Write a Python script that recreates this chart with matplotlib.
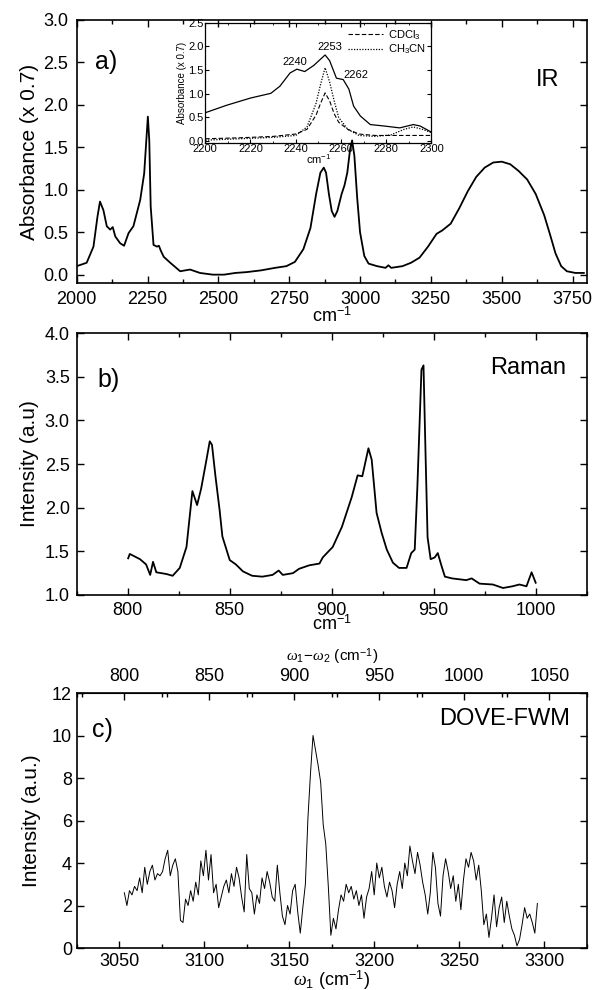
from matplotlib import pyplot as plt
from matplotlib.ticker import MultipleLocator
import numpy as np

plt.rcParams['font.family'] = ['Liberation Sans', 'DejaVu Sans']
plt.rcParams['mathtext.fontset'] = 'custom'
plt.rcParams['mathtext.rm'] = 'Liberation Sans'
plt.rcParams['mathtext.it'] = 'Liberation Serif:italic'

# a) IR spectrum
ir_x = [2000, 2035, 2059, 2073, 2082, 2094, 2106, 2118, 2127, 2136, 2153, 2167,
        2183, 2200, 2224, 2238, 2244, 2251, 2256, 2261, 2271, 2283, 2290, 2297,
        2307, 2330, 2365, 2400, 2435, 2480, 2520, 2560, 2600, 2650, 2700, 2740,
        2770, 2800, 2825, 2845, 2860, 2872, 2880, 2890, 2900, 2910, 2920, 2935,
        2945, 2955, 2965, 2972, 2980, 2990, 3000, 3015, 3030, 3060, 3090, 3100,
        3110, 3150, 3180, 3210, 3240, 3270, 3290, 3320, 3350, 3380, 3410, 3440,
        3470, 3500, 3530, 3560, 3590, 3620, 3650, 3670, 3690, 3710, 3730, 3760, 3790]
ir_y = [0.10, 0.14, 0.33, 0.68, 0.86, 0.76, 0.57, 0.53, 0.56, 0.45, 0.37, 0.34,
        0.49, 0.57, 0.88, 1.19, 1.50, 1.86, 1.58, 0.80, 0.35, 0.33, 0.34, 0.28,
        0.21, 0.14, 0.04, 0.06, 0.02, 0.00, 0.00, 0.02, 0.03, 0.05, 0.08, 0.10,
        0.15, 0.30, 0.55, 0.95, 1.20, 1.26, 1.20, 0.95, 0.75, 0.68, 0.75, 0.95,
        1.05, 1.20, 1.48, 1.58, 1.40, 0.90, 0.50, 0.22, 0.13, 0.10, 0.08, 0.11,
        0.08, 0.10, 0.14, 0.20, 0.33, 0.48, 0.52, 0.60, 0.78, 0.98, 1.15, 1.26,
        1.32, 1.33, 1.30, 1.22, 1.12, 0.95, 0.70, 0.48, 0.25, 0.10, 0.04, 0.02, 0.02]

# inset: CN stretch region
sol_x = [2200, 2209.6, 2220, 2229, 2233, 2237.5, 2240.5, 2244, 2248, 2253, 2255,
         2258, 2261, 2263.5, 2265.6, 2268.6, 2273, 2279, 2286, 2292, 2295, 2300]
sol_y = [0.60, 0.76, 0.91, 1.01, 1.16, 1.44, 1.52, 1.47, 1.60, 1.82, 1.70,
         1.33, 1.30, 1.10, 0.74, 0.53, 0.35, 0.32, 0.28, 0.35, 0.32, 0.19]
cdcl3_x = [2200, 2215, 2230, 2240, 2245, 2249, 2251, 2253, 2255, 2257, 2259,
           2263, 2268, 2275, 2285, 2300]
cdcl3_y = [0.05, 0.07, 0.10, 0.15, 0.25, 0.55, 0.80, 1.02, 0.85, 0.58, 0.40,
           0.25, 0.15, 0.12, 0.12, 0.12]
ch3cn_x = [2200, 2215, 2230, 2240, 2245, 2249, 2251, 2253, 2255, 2257, 2259,
           2263, 2268, 2275, 2282, 2288, 2292, 2296, 2300]
ch3cn_y = [0.02, 0.05, 0.08, 0.12, 0.30, 0.80, 1.20, 1.55, 1.25, 0.85, 0.50,
           0.25, 0.12, 0.10, 0.13, 0.25, 0.30, 0.25, 0.18]
peak_labels = [('2240', 2239.5, 1.67), ('2253', 2255, 1.98), ('2262', 2266.5, 1.40)]

# b) Raman spectrum
raman_x = [800.2, 801, 806, 809, 811, 812.4, 814, 819, 822, 825.5, 828.8, 830.7,
           831.7, 834, 836, 838.6, 840.2, 841.3, 843, 845, 846.4, 848.4, 850, 853,
           856.5, 861, 866, 871, 874, 876, 881, 884, 889, 894, 895.6, 900.5, 905,
           909.8, 912.7, 915, 918, 919.6, 922, 924.5, 927, 930, 933, 936.7, 939,
           940.7, 942, 944, 945, 946, 947, 948.5, 950.5, 952, 954, 955.5, 959, 966,
           968.6, 972.5, 979, 984, 988.7, 992, 995.5, 998, 1000]
raman_y = [1.42, 1.47, 1.41, 1.35, 1.23, 1.38, 1.26, 1.24, 1.22, 1.31, 1.55, 1.97,
           2.19, 2.03, 2.22, 2.55, 2.76, 2.72, 2.36, 1.98, 1.67, 1.52, 1.40, 1.35,
           1.27, 1.22, 1.21, 1.23, 1.28, 1.23, 1.25, 1.30, 1.34, 1.36, 1.43, 1.55, 1.78,
           2.12, 2.37, 2.36, 2.68, 2.55, 1.94, 1.71, 1.52, 1.37, 1.31, 1.31, 1.48,
           1.52, 2.24, 3.58, 3.63, 2.62, 1.66, 1.41, 1.43, 1.48, 1.32, 1.21, 1.19, 1.17,
           1.19, 1.13, 1.12, 1.08, 1.10, 1.12, 1.10, 1.26, 1.14]

# c) DOVE-FWM scan, omega_1 stepped every 1.5 cm-1
OMEGA2 = 2253
fwm_x = np.arange(3053, 3296.5, 1.5)
fwm_y = [2.6, 2.0, 2.7, 2.5, 2.9, 2.7, 3.3, 2.6, 3.8, 3.0, 3.6, 3.9, 3.2, 3.5, 3.4,
         3.6, 4.2, 4.6, 3.4, 3.9, 4.2, 3.6, 1.3, 1.2, 2.3, 2.0, 2.7, 2.2, 3.1, 2.5,
         4.1, 3.4, 4.6, 3.2, 4.4, 2.6, 3.0, 1.9, 2.4, 2.9, 3.2, 2.6, 3.5, 2.9, 3.8,
         3.3, 2.4, 1.7, 4.4, 2.8, 2.6, 1.6, 2.5, 2.1, 3.3, 2.8, 3.6, 3.1, 2.4, 2.2,
         3.9, 2.6, 1.5, 1.1, 2.0, 1.6, 2.7, 3.0, 1.7, 0.7, 1.9, 3.0, 6.1, 8.2, 10.0,
         9.3, 8.6, 7.8, 5.8, 4.9, 2.9, 0.6, 1.4, 0.9, 1.8, 2.5, 2.2, 3.0, 2.6, 2.9,
         2.3, 2.7, 2.0, 2.5, 1.4, 2.4, 2.8, 3.6, 2.5, 4.0, 3.3, 3.8, 2.9, 2.4, 3.1,
         2.7, 1.9, 3.0, 3.6, 2.8, 4.0, 3.4, 4.8, 4.1, 3.5, 4.5, 3.9, 3.1, 2.5, 1.6,
         2.6, 4.5, 3.8, 2.1, 1.5, 3.4, 4.2, 3.6, 2.8, 3.4, 2.2, 3.0, 1.8, 3.2, 4.2,
         3.8, 4.5, 4.1, 3.2, 3.9, 2.7, 1.1, 1.6, 0.5, 1.4, 2.5, 1.0, 1.9, 2.4, 1.2,
         2.2, 1.5, 0.9, 0.6, 0.1, 0.4, 1.1, 1.9, 1.4, 1.6, 1.2, 0.7, 2.1]

TICK = 13
LAB = 15
TAG = 18


def style(ax, pad=5):
    ax.tick_params(which='both', direction='in', top=True, right=True,
                   labelsize=TICK, width=1, pad=pad)
    ax.tick_params(which='major', length=5)
    ax.tick_params(which='minor', length=3)
    for s in ax.spines.values():
        s.set_linewidth(1.2)


fig = plt.figure(figsize=(5.95, 9.9), dpi=100)

# ---- a) IR
ax1 = fig.add_axes([0.129, 0.714, 0.857, 0.266])
ax1.plot(ir_x, ir_y, color='black', lw=1.3)
ax1.set_xlim(2000, 3800)
ax1.set_ylim(-0.1, 3.0)
ax1.xaxis.set_major_locator(MultipleLocator(250))
ax1.xaxis.set_minor_locator(MultipleLocator(125))
ax1.yaxis.set_major_locator(MultipleLocator(0.5))
ax1.yaxis.set_major_formatter(plt.FormatStrFormatter('%.1f'))
style(ax1, pad=6)
ax1.set_xlabel('cm$^{-1}$', fontsize=TICK, labelpad=-1)
ax1.set_ylabel('Absorbance (x 0.7)', fontsize=LAB, labelpad=3)
ax1.text(0.035, 0.84, 'a)', transform=ax1.transAxes, fontsize=TAG, va='center')
ax1.text(0.947, 0.77, 'IR', transform=ax1.transAxes, fontsize=17,
         va='center', ha='right')

# inset
axi = fig.add_axes([0.345, 0.856, 0.38, 0.121])
axi.set_facecolor('none')
axi.plot(sol_x, sol_y, color='black', lw=0.9)
axi.plot(cdcl3_x, cdcl3_y, color='black', lw=0.8, ls=(0, (4, 2)), label='CDCl$_3$')
axi.plot(ch3cn_x, ch3cn_y, color='black', lw=0.9, ls=(0, (1, 1.2)), label='CH$_3$CN')
axi.set_xlim(2200, 2300)
axi.set_ylim(-0.03, 2.5)
axi.xaxis.set_major_locator(MultipleLocator(20))
axi.xaxis.set_minor_locator(MultipleLocator(10))
axi.yaxis.set_major_locator(MultipleLocator(0.5))
axi.yaxis.set_major_formatter(plt.FormatStrFormatter('%.1f'))
axi.tick_params(which='both', direction='in', top=True, right=True,
                labelsize=8, pad=1)
axi.tick_params(which='major', length=3)
axi.tick_params(which='minor', length=1.5)
for s in axi.spines.values():
    s.set_linewidth(0.9)
axi.set_xlabel('cm$^{-1}$', fontsize=8, labelpad=-1)
axi.set_ylabel('Absorbance (x 0.7)', fontsize=7, labelpad=1)
for txt, px, py in peak_labels:
    axi.text(px, py, txt, fontsize=8, ha='center', va='center')
axi.legend(loc='upper right', frameon=False, fontsize=8, handlelength=3.2,
           borderaxespad=0.1, labelspacing=0.1, handletextpad=0.4)

# ---- b) Raman
ax2 = fig.add_axes([0.129, 0.399, 0.857, 0.2646])
ax2.plot(raman_x, raman_y, color='black', lw=1.3)
ax2.set_xlim(775, 1025)
ax2.set_ylim(1.0, 4.0)
ax2.xaxis.set_major_locator(MultipleLocator(50))
ax2.xaxis.set_minor_locator(MultipleLocator(25))
ax2.yaxis.set_major_locator(MultipleLocator(0.5))
ax2.yaxis.set_major_formatter(plt.FormatStrFormatter('%.1f'))
style(ax2, pad=5)
ax2.set_xlabel('cm$^{-1}$', fontsize=TICK, labelpad=-3)
ax2.set_ylabel('Intensity (a.u)', fontsize=LAB, labelpad=4)
ax2.text(0.04, 0.82, 'b)', transform=ax2.transAxes, fontsize=TAG, va='center')
ax2.text(0.96, 0.866, 'Raman', transform=ax2.transAxes, fontsize=17,
         va='center', ha='right')

# ---- c) DOVE-FWM
ax3 = fig.add_axes([0.129, 0.0424, 0.857, 0.2576])
ax3.plot(fwm_x, fwm_y, color='black', lw=0.7)
ax3.set_xlim(3025, 3325)
ax3.set_ylim(0, 12)
ax3.xaxis.set_major_locator(MultipleLocator(50))
ax3.xaxis.set_minor_locator(MultipleLocator(25))
ax3.yaxis.set_major_locator(MultipleLocator(2))
style(ax3, pad=3.5)
ax3.tick_params(top=False)
ax3.set_xlabel(r'$\omega_1$ (cm$^{-1}$)', fontsize=TICK, labelpad=-1)
ax3.set_ylabel('Intensity (a.u.)', fontsize=LAB, labelpad=8)
ax3.text(0.03, 0.855, 'c)', transform=ax3.transAxes, fontsize=TAG, va='center')
ax3.text(0.967, 0.90, 'DOVE-FWM', transform=ax3.transAxes, fontsize=17,
         va='center', ha='right')

top = ax3.secondary_xaxis('top', functions=(lambda x: x - OMEGA2,
                                            lambda x: x + OMEGA2))
top.xaxis.set_major_locator(MultipleLocator(50))
top.xaxis.set_minor_locator(MultipleLocator(25))
top.tick_params(which='both', direction='in', labelsize=TICK, width=1, pad=6)
top.tick_params(which='major', length=5)
top.tick_params(which='minor', length=3)
top.set_xlabel(r'$\omega_1\!-\!\omega_2$ (cm$^{-1}$)', fontsize=11, labelpad=5)

fig.savefig('out.png', dpi=100)
